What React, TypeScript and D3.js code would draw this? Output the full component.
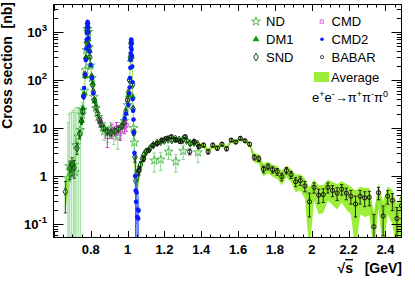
import React from "react";
import * as d3 from "d3";

type Pt = [number, number, number]; // [sqrt(s) GeV, sigma nb, error nb]

const ndPoints: Pt[] = [
  [0.676, 0.9, 12], [0.683, 1.6, 18], [0.694, 1.3, 20], [0.705, 1.7, 22], [0.714, 1.2, 20],
  [0.72, 4.4, 22], [0.732, 6.6, 20], [0.743, 9.1, 14], [0.752, 19, 10], [0.756, 24, 10],
  [0.766, 60, 12], [0.771, 160, 25], [0.776, 420, 50], [0.781, 1150, 100], [0.786, 1000, 90],
  [0.791, 480, 50], [0.798, 200, 25], [0.806, 110, 14], [0.817, 45, 7], [0.828, 26, 5],
  [0.842, 17, 4], [0.858, 12, 3.5], [0.873, 8.5, 3], [0.892, 8.0, 3], [0.908, 9.5, 3.5],
  [0.925, 7.5, 3], [0.947, 6.6, 3], [0.962, 9.5, 3.5], [0.982, 14, 4], [1.0, 30, 6],
  [1.032, 10, 4], [1.037, 5, 3], [1.145, 2.1, 0.9], [1.18, 2.2, 0.9], [1.222, 3.2, 1.0],
  [1.262, 2.0, 0.8], [1.302, 3.3, 1.1], [1.382, 3.1, 1.2],
];

const dm1Points: Pt[] = [
  [0.75, 14, 2], [0.758, 26, 3], [0.765, 52, 5], [0.77, 120, 10], [0.775, 300, 20],
  [0.779, 650, 40], [0.783, 1350, 80], [0.787, 700, 40], [0.792, 400, 25], [0.8, 200, 14],
  [0.81, 85, 7], [0.822, 36, 4], [0.99, 20, 3], [1.005, 48, 5], [1.015, 270, 20],
  [1.02, 600, 40], [1.028, 45, 5],
];

const sndPoints: Pt[] = [
  [0.662, 0.47, 0.3], [0.687, 1.45, 0.6], [0.698, 1.7, 0.7], [0.71, 1.5, 0.6], [0.725, 3.8, 1.0],
  [0.74, 7.5, 1.5], [0.75, 14, 2], [0.756, 22, 2.5], [0.762, 46, 4], [0.769, 127, 8],
  [0.774, 283, 15], [0.778, 600, 35], [0.781, 1100, 60], [0.783, 1500, 80], [0.786, 1000, 60],
  [0.79, 500, 30], [0.795, 300, 20], [0.805, 117, 8], [0.811, 78, 5], [0.814, 57, 4],
  [0.82, 38, 3], [0.829, 27, 2], [0.838, 20, 1.5], [0.847, 14.7, 1.2], [0.856, 12, 1],
  [0.87, 10, 1], [0.89, 8.5, 0.9], [0.91, 8, 0.9], [0.93, 8.6, 0.9], [0.95, 9.5, 1],
  [0.97, 11, 1], [0.98, 13, 1.2], [0.99, 22, 2], [1.0, 38, 3], [1.005, 55, 4],
  [1.01, 100, 7], [1.015, 300, 20], [1.019, 600, 40], [1.023, 300, 20], [1.027, 80, 6],
  [1.03, 25, 2.5], [1.034, 8, 1], [1.04, 2.5, 0.6], [1.044, 0.8, 1.8], [1.05, 0.9, 0.4],
  [1.06, 1.3, 0.3], [1.07, 1.7, 0.3], [1.08, 2.3, 0.3], [1.09, 2.8, 0.3], [1.1, 3.2, 0.3],
  [1.12, 3.7, 0.3], [1.14, 4.4, 0.35], [1.16, 4.9, 0.35], [1.18, 5.2, 0.4], [1.2, 5.5, 0.4],
  [1.22, 5.8, 0.4], [1.24, 5.6, 0.4], [1.26, 5.9, 0.45], [1.28, 5.6, 0.45], [1.3, 5.7, 0.45],
  [1.32, 5.5, 0.45], [1.34, 4.8, 0.45], [1.36, 5.0, 0.45], [1.38, 4.6, 0.45],
];

const cmdPoints: Pt[] = [
  [0.853, 13.5, 3], [0.89, 6.6, 2.7], [0.915, 9.0, 3], [0.94, 10, 3], [0.96, 8.5, 3],
  [0.983, 10.6, 3], [0.992, 11.5, 3], [1.001, 38, 6],
];

const cmd2Points: Pt[] = [
  [0.76, 45, 4], [0.764, 68, 5], [0.769, 130, 8], [0.773, 260, 15], [0.776, 450, 25],
  [0.778, 700, 35], [0.7795, 950, 45], [0.781, 1250, 55], [0.782, 1500, 60], [0.783, 1620, 65],
  [0.784, 1500, 60], [0.785, 1250, 55], [0.786, 1000, 45], [0.788, 750, 35], [0.791, 520, 25],
  [0.794, 390, 20], [0.8, 205, 12], [0.807, 110, 7], [0.814, 53, 4],
  [0.984, 16, 1.2], [0.992, 20, 1.5], [1.004, 30, 2], [1.009, 53, 3], [1.011, 70, 4],
  [1.013, 110, 6], [1.015, 180, 10], [1.016, 260, 14], [1.017, 360, 18], [1.018, 480, 24],
  [1.019, 620, 30], [1.0195, 700, 32], [1.02, 660, 30], [1.021, 560, 28], [1.022, 430, 22],
  [1.023, 320, 16], [1.025, 190, 10], [1.027, 90, 5], [1.028, 40, 3], [1.03, 23, 2],
  [1.032, 15, 1.5], [1.034, 8, 1], [1.037, 3, 0.6], [1.041, 1.0, 0.4], [1.044, 0.5, 0.4],
  [1.046, 0.29, 0.3], [1.049, 0.45, 0.35], [1.052, 0.14, 0.2], [1.055, 0.2, 0.25],
  [1.058, 0.13, 0.2], [1.06, 0.19, 0.2],
];

const babarPoints: Pt[] = [
  [1.0625, 1.3, 0.25], [1.0875, 2.3, 0.3], [1.1125, 3.4, 0.3], [1.1375, 4.4, 0.35],
  [1.1625, 4.8, 0.35], [1.1875, 5.6, 0.4], [1.2125, 6.1, 0.4], [1.2375, 6.6, 0.45],
  [1.2625, 5.6, 0.4], [1.2875, 5.2, 0.4], [1.3125, 6.6, 0.45], [1.3375, 3.2, 0.45],
  [1.3625, 5.2, 0.4], [1.3875, 4.1, 0.4], [1.4125, 4.4, 0.4], [1.4375, 3.2, 0.35],
  [1.4625, 4.4, 0.4], [1.4875, 3.8, 0.35], [1.5125, 4.6, 0.4], [1.5375, 3.7, 0.35],
  [1.5625, 5.6, 0.4], [1.5875, 5.1, 0.4], [1.6125, 6.1, 0.45], [1.6375, 5.4, 0.4],
  [1.6625, 4.6, 0.4], [1.6875, 2.45, 0.3], [1.7125, 2.3, 0.3], [1.7375, 1.38, 0.22],
  [1.7625, 1.56, 0.22], [1.7875, 1.35, 0.2], [1.8125, 1.23, 0.2], [1.8375, 0.97, 0.18],
  [1.8625, 1.3, 0.2], [1.8875, 1.07, 0.18], [1.9125, 0.76, 0.16], [1.9375, 0.8, 0.16],
  [1.9625, 0.62, 0.15], [1.9875, 0.29, 0.15], [2.0125, 0.58, 0.14], [2.0375, 0.4, 0.13],
  [2.0625, 0.41, 0.13], [2.0875, 0.58, 0.14], [2.1125, 0.5, 0.13], [2.1375, 0.44, 0.13],
  [2.1625, 0.53, 0.13], [2.1875, 0.44, 0.12], [2.2125, 0.38, 0.12], [2.2375, 0.26, 0.12],
  [2.2625, 0.38, 0.12], [2.2875, 0.35, 0.12], [2.3125, 0.36, 0.12], [2.3375, 0.088, 0.07],
  [2.3625, 0.45, 0.13], [2.3875, 0.147, 0.09], [2.4125, 0.38, 0.12], [2.4375, 0.31, 0.12],
  [2.4625, 0.13, 0.09], [2.4875, 0.24, 0.11],
];

const averageBand: Pt[] = [
  [0.662, 0.45, 0.28], [0.675, 0.9, 0.5], [0.687, 1.4, 0.5], [0.7, 1.6, 0.5], [0.712, 2.0, 0.6],
  [0.725, 3.8, 0.9], [0.737, 6.8, 1.2], [0.745, 10, 1.5], [0.752, 16, 2], [0.758, 27, 3],
  [0.763, 46, 4], [0.768, 80, 6], [0.772, 160, 12], [0.776, 330, 25], [0.779, 700, 50],
  [0.781, 1150, 80], [0.783, 1500, 100], [0.785, 1250, 90], [0.787, 850, 60], [0.79, 560, 40],
  [0.794, 350, 25], [0.8, 190, 14], [0.805, 120, 9], [0.81, 80, 6], [0.815, 55, 4],
  [0.82, 40, 3], [0.83, 26, 2], [0.84, 19, 1.5], [0.85, 14, 1.2], [0.86, 12, 1],
  [0.87, 10, 1], [0.88, 9, 1], [0.9, 8.3, 0.9], [0.92, 8.3, 0.9], [0.94, 8.8, 0.9],
  [0.96, 10, 1], [0.975, 12, 1.2], [0.985, 16, 1.5], [0.995, 24, 2], [1.003, 40, 3],
  [1.009, 70, 5], [1.013, 130, 10], [1.016, 300, 20], [1.019, 650, 40], [1.022, 420, 30],
  [1.025, 180, 14], [1.028, 40, 4], [1.032, 15, 1.5], [1.036, 4, 0.6], [1.04, 1.3, 0.3],
  [1.045, 0.5, 0.25], [1.05, 0.4, 0.2], [1.055, 0.6, 0.2],
  [1.0625, 1.3, 0.3], [1.0875, 2.3, 0.35], [1.1125, 3.4, 0.4], [1.1375, 4.4, 0.45],
  [1.1625, 4.9, 0.45], [1.1875, 5.5, 0.5], [1.2125, 5.9, 0.5], [1.2375, 6.3, 0.55],
  [1.2625, 5.7, 0.5], [1.2875, 5.4, 0.5], [1.3125, 6.2, 0.55], [1.3375, 4.6, 0.5],
  [1.3625, 5.1, 0.5], [1.3875, 4.2, 0.5], [1.4125, 4.4, 0.5], [1.4375, 3.3, 0.45],
  [1.4625, 4.3, 0.5], [1.4875, 3.8, 0.45], [1.5125, 4.6, 0.5], [1.5375, 3.7, 0.45],
  [1.5625, 5.5, 0.55], [1.5875, 5.1, 0.5], [1.6125, 6.0, 0.6], [1.6375, 5.4, 0.55],
  [1.6625, 4.6, 0.5], [1.6875, 2.45, 0.55], [1.7125, 2.3, 0.5], [1.7375, 1.4, 0.42],
  [1.7625, 1.56, 0.42], [1.7875, 1.35, 0.38], [1.8125, 1.23, 0.36], [1.8375, 0.97, 0.33],
  [1.8625, 1.3, 0.36], [1.8875, 1.07, 0.33], [1.9125, 0.76, 0.3], [1.9375, 0.8, 0.3],
  [1.9625, 0.62, 0.28], [1.9875, 0.29, 0.29], [2.0125, 0.58, 0.27], [2.0375, 0.4, 0.24],
  [2.0625, 0.41, 0.24], [2.0875, 0.58, 0.27], [2.1125, 0.5, 0.25], [2.1375, 0.44, 0.24],
  [2.1625, 0.53, 0.25], [2.1875, 0.44, 0.24], [2.2125, 0.38, 0.22], [2.2375, 0.26, 0.24],
  [2.2625, 0.38, 0.22], [2.2875, 0.35, 0.21], [2.3125, 0.36, 0.21], [2.3375, 0.088, 0.088],
  [2.3625, 0.45, 0.24], [2.3875, 0.147, 0.147], [2.4125, 0.38, 0.22], [2.4375, 0.31, 0.21],
  [2.4625, 0.13, 0.13], [2.4875, 0.24, 0.2],
];

const xMajorTicks = [0.6, 0.8, 1, 1.2, 1.4, 1.6, 1.8, 2, 2.2, 2.4];
const xTickLabels = ["", "0.8", "1", "1.2", "1.4", "1.6", "1.8", "2", "2.2", "2.4"];
const yMajorTicks = [0.1, 1, 10, 100, 1000];
const yLabelBase = ["10", "1", "10", "10", "10"];
const yLabelExp = ["-1", "", "", "2", "3"];
const legendLeft = ["ND", "DM1", "SND"];
const legendRight = ["CMD", "CMD2", "BABAR"];

const FONT = "'Liberation Sans', Arial, Helvetica, sans-serif";

export default function App() {
  const W = 415, H = 281;
  const L = 53, R = 402, T = 4, B = 238;
  const yMinV = 0.0511, yMaxV = 3830;
  const x = d3.scaleLinear().domain([0.595, 2.49]).range([L, R]);
  const y = d3.scaleLog().domain([yMinV, yMaxV]).range([B, T]);
  const yv = (v: number) => y(Math.max(v, yMinV * 0.5));

  const sym = (t: d3.SymbolType, s: number) => d3.symbol().type(t).size(s)() as string;
  const star = sym(d3.symbolStar, 24);
  const tri = sym(d3.symbolTriangle, 20);
  const dia = sym(d3.symbolDiamond, 18);
  const sq = sym(d3.symbolSquare, 16);

  const C = {
    nd: "#45b045", ndErr: "#8ad88a", dm1: "#0c9c0c", snd: "#0b560b",
    cmd: "#cc3fcc", cmd2: "#0a1cff", babar: "#111111", avg: "#9cee38", avgLine: "#74cf1e",
  };

  const errBars = (pts: Pt[], color: string, w: number, cap: number, op = 1) =>
    pts.map(([sx, v, e], i) => {
      const px = x(sx);
      const y1 = yv(v + e);
      const y2 = yv(v - e);
      return (
        <g key={i} stroke={color} strokeWidth={w} opacity={op}>
          <line x1={px} x2={px} y1={y1} y2={y2} />
          {cap > 0 && <line x1={px - cap} x2={px + cap} y1={y1} y2={y1} />}
          {cap > 0 && v - e > yMinV && <line x1={px - cap} x2={px + cap} y1={y2} y2={y2} />}
        </g>
      );
    });

  const markers = (pts: Pt[], path: string | null, fill: string, stroke: string, sw: number, r = 2.2) =>
    pts.map(([sx, v], i) =>
      path ? (
        <path key={i} d={path} transform={`translate(${x(sx)},${yv(v)})`} fill={fill} stroke={stroke} strokeWidth={sw} />
      ) : (
        <circle key={i} cx={x(sx)} cy={yv(v)} r={r} fill={fill} stroke={stroke} strokeWidth={sw} />
      )
    );

  const area = d3
    .area<Pt>()
    .x((d) => x(d[0]))
    .y0((d) => yv(d[1] - d[2]))
    .y1((d) => yv(d[1] + d[2]));
  const line = d3
    .line<Pt>()
    .x((d) => x(d[0]))
    .y((d) => yv(d[1]));

  const xMinor: number[] = [];
  for (let k = 12; k <= 49; k++) if (k % 4 !== 0) xMinor.push(k * 0.05);
  const yMinor: number[] = [];
  for (let d = -2; d <= 3; d++)
    for (let m = 2; m <= 9; m++) {
      const v = m * Math.pow(10, d);
      if (v > yMinV && v < yMaxV) yMinor.push(v);
    }
  const r5 = (v: number) => Math.round(v) + 0.5;

  return (
    <svg width={W} height={H} style={{ position: "absolute", left: 0, top: 0, background: "#fff" }} fontFamily={FONT}>
      <defs>
        <clipPath id="frame">
          <rect x={L} y={T} width={R - L} height={B - T} />
        </clipPath>
      </defs>
      <rect x={0} y={0} width={W} height={H} fill="#fff" />
      <g clipPath="url(#frame)">
        <path d={area(averageBand) as string} fill={C.avg} stroke="none" />
        <path d={line(averageBand) as string} fill="none" stroke={C.avgLine} strokeWidth={0.8} />
        {errBars(ndPoints, C.ndErr, 1, 1.8)}
        {markers(ndPoints, star, "none", C.nd, 0.9)}
        {errBars(cmdPoints, C.cmd, 1, 1.8)}
        {markers(cmdPoints, sq, "none", C.cmd, 1)}
        {errBars(dm1Points, C.dm1, 1, 0)}
        {markers(dm1Points, tri, C.dm1, "none", 0)}
        {errBars(sndPoints, C.snd, 1, 1.5)}
        {markers(sndPoints, dia, "none", C.snd, 1)}
        {errBars(cmd2Points, "#5a6cff", 1.2, 0, 0.6)}
        {markers(cmd2Points, null, C.cmd2, "none", 0, 2.3)}
        {errBars(babarPoints, C.babar, 0.9, 1.6)}
        {markers(babarPoints, null, "none", C.babar, 1, 2.1)}
      </g>

      <rect x={L + 0.5} y={T + 0.5} width={R - L - 1} height={B - T - 1} fill="none" stroke="#000" strokeWidth={1} />

      <g stroke="#000" strokeWidth={1}>
        {xMajorTicks.map((t, i) => (
          <g key={"xm" + i}>
            <line x1={r5(x(t))} x2={r5(x(t))} y1={B} y2={B - 7} />
            <line x1={r5(x(t))} x2={r5(x(t))} y1={T} y2={T + 7} />
          </g>
        ))}
        {xMinor.map((t, i) => (
          <g key={"xn" + i}>
            <line x1={r5(x(t))} x2={r5(x(t))} y1={B} y2={B - 3.5} />
            <line x1={r5(x(t))} x2={r5(x(t))} y1={T} y2={T + 3.5} />
          </g>
        ))}
        {yMajorTicks.map((t, i) => (
          <g key={"ym" + i}>
            <line x1={L} x2={L + 10.5} y1={r5(y(t))} y2={r5(y(t))} />
            <line x1={R} x2={R - 10.5} y1={r5(y(t))} y2={r5(y(t))} />
          </g>
        ))}
        {yMinor.map((t, i) => (
          <g key={"yn" + i}>
            <line x1={L} x2={L + 5.2} y1={r5(y(t))} y2={r5(y(t))} />
            <line x1={R} x2={R - 5.2} y1={r5(y(t))} y2={r5(y(t))} />
          </g>
        ))}
      </g>

      {xMajorTicks.map((t, i) => (
        <text key={"xl" + i} x={x(t)} y={254} textAnchor="middle" fontSize={13} fontWeight="bold" fill="#000">
          {xTickLabels[i]}
        </text>
      ))}
      {yMajorTicks.map((t, i) => (
        <text key={"yl" + i} x={47} y={y(t) + 4.8} textAnchor="end" fontSize={13} fontWeight="bold" fill="#000">
          {yLabelBase[i]}
          {yLabelExp[i] && (
            <tspan dy={-5.5} fontSize={9.5}>
              {yLabelExp[i]}
            </tspan>
          )}
        </text>
      ))}

      <text transform={`translate(12,2) rotate(-90)`} textAnchor="end" fontSize={14} fontWeight="bold" style={{ whiteSpace: "pre" }}>
        {"Cross section  [nb]"}
      </text>
      <text x={R} y={273} textAnchor="end" fontSize={14} fontWeight="bold" style={{ whiteSpace: "pre" }}>
        {"√"}
        <tspan style={{ textDecoration: "overline" }}>s</tspan>
        {"   [GeV]"}
      </text>

      <g fontSize={13} fill="#000">
        {legendLeft.map((s, i) => (
          <text key={"ll" + i} x={266} y={26.2 + i * 17.8}>
            {s}
          </text>
        ))}
        {legendRight.map((s, i) => (
          <text key={"lr" + i} x={331.5} y={26.2 + i * 17.8}>
            {s}
          </text>
        ))}
        <path d={star} transform="translate(256,21.5)" fill="none" stroke={C.nd} strokeWidth={0.9} />
        <path d={tri} transform="translate(256,39.3)" fill={C.dm1} />
        <path d={dia} transform="translate(256,57.1)" fill="none" stroke={C.snd} strokeWidth={1} />
        <rect x={320.2} y={20} width={3.2} height={3.2} fill="none" stroke="#dd66dd" strokeWidth={1} />
        <circle cx={322} cy={39.3} r={1.8} fill={C.cmd2} />
        <circle cx={322} cy={57.1} r={1.6} fill="none" stroke="#333" strokeWidth={0.9} />
        <rect x={314} y={72} width={15} height={10} fill={C.avg} />
        <text x={331} y={81.7}>Average</text>
        <text x={312} y={101.5}>
          e<tspan dy={-5} fontSize={9}>+</tspan>
          <tspan dy={5}>e</tspan>
          <tspan dy={-5} fontSize={9}>-</tspan>
          <tspan dy={5}>{"→π"}</tspan>
          <tspan dy={-5} fontSize={9}>+</tspan>
          <tspan dy={5}>π</tspan>
          <tspan dy={-5} fontSize={9}>-</tspan>
          <tspan dy={5}>π</tspan>
          <tspan dy={-5} fontSize={9}>0</tspan>
        </text>
      </g>
    </svg>
  );
}
